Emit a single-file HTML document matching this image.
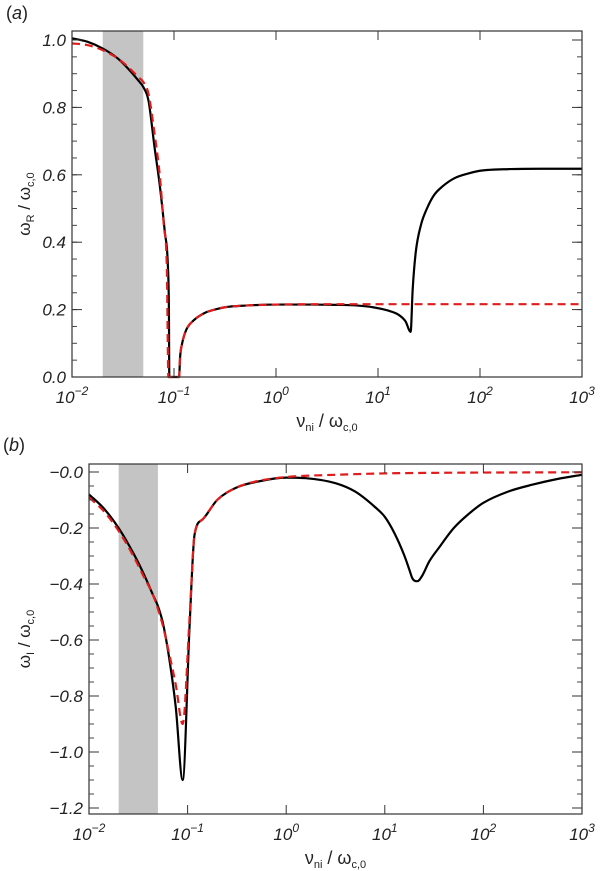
<!DOCTYPE html>
<html><head><meta charset="utf-8"><style>
html,body{margin:0;padding:0;background:#fff}
svg{display:block}
text{font-family:"Liberation Sans",sans-serif;fill:#222}
.tk{font-style:italic;font-size:17px}
</style></head><body>
<svg id="chart" width="600" height="871" viewBox="0 0 600 871">
</svg>
<script>
// ---- data (x given as log10(nu_ni/omega_c0)) ----
const aBlackX=[-2,-1.85,-1.7,-1.55,-1.45,-1.35,-1.3,-1.25,-1.19,-1.14,-1.09,-1.06,-1.05,-1.046,-0.95,-0.94,-0.92,-0.88,-0.8,-0.7,-0.6,-0.5,-0.3,0,0.3,0.6,0.8,0.95,1.1,1.2,1.27,1.32,1.34,1.37,1.42,1.48,1.55,1.63,1.75,1.9,2.0,2.3,2.6,3];
const aBlackY=[1.005,0.995,0.975,0.945,0.915,0.88,0.86,0.82,0.68,0.57,0.43,0.33,0.2,0,0,0.06,0.1,0.14,0.17,0.19,0.2,0.207,0.212,0.215,0.215,0.214,0.212,0.207,0.197,0.185,0.165,0.134,0.26,0.37,0.45,0.5,0.54,0.565,0.59,0.605,0.612,0.617,0.618,0.618];
const aRedX=[-2,-1.85,-1.7,-1.55,-1.45,-1.35,-1.3,-1.25,-1.19,-1.14,-1.1,-1.07,-1.055,-0.95,-0.94,-0.92,-0.88,-0.8,-0.7,-0.6,-0.5,-0.3,0,0.5,1,2,3];
const aRedY=[0.99,0.985,0.97,0.945,0.92,0.89,0.875,0.84,0.72,0.6,0.45,0.32,0,0,0.06,0.1,0.14,0.17,0.19,0.2,0.207,0.212,0.215,0.216,0.216,0.216,0.216];
const bBlackX=[-2,-1.85,-1.7,-1.55,-1.45,-1.35,-1.3,-1.25,-1.18,-1.12,-1.05,-0.98,-0.93,-0.85,-0.7,-0.5,-0.3,0,0.2,0.5,0.7,0.9,1.0,1.1,1.2,1.25,1.28,1.33,1.38,1.45,1.55,1.7,1.85,2.0,2.25,2.5,2.75,3];
const bBlackY=[-0.08,-0.13,-0.2,-0.29,-0.36,-0.44,-0.48,-0.54,-0.68,-0.84,-1.1,-0.55,-0.225,-0.17,-0.1,-0.055,-0.035,-0.02,-0.022,-0.04,-0.07,-0.125,-0.16,-0.22,-0.3,-0.35,-0.38,-0.39,-0.37,-0.32,-0.27,-0.2,-0.15,-0.11,-0.07,-0.045,-0.025,-0.01];
const bRedX=[-2,-1.85,-1.7,-1.55,-1.45,-1.35,-1.3,-1.25,-1.18,-1.12,-1.05,-0.98,-0.93,-0.85,-0.7,-0.5,-0.3,0,0.5,1,1.5,2,3];
const bRedY=[-0.09,-0.14,-0.21,-0.3,-0.37,-0.44,-0.49,-0.55,-0.66,-0.76,-0.9,-0.52,-0.225,-0.17,-0.1,-0.055,-0.033,-0.018,-0.01,-0.005,-0.003,-0.002,-0.001];
const shadeRange=[0.02,0.05];
const xTickExp=[-2,-1,0,1,2,3];
const aYTicks=[0,0.2,0.4,0.6,0.8,1.0];
const bYTicks=[0,-0.2,-0.4,-0.6,-0.8,-1.0,-1.2];

const NS='http://www.w3.org/2000/svg';
const svg=document.getElementById('chart');
function el(tag,attrs,parent){const e=document.createElementNS(NS,tag);for(const k in attrs)e.setAttribute(k,attrs[k]);(parent||svg).appendChild(e);return e;}

// monotone cubic path (Fritsch-Carlson)
function monoPath(P){
  const n=P.length;if(n<2)return '';
  const d=[],m=[];
  for(let i=0;i<n-1;i++){const dx=P[i+1][0]-P[i][0];d.push(dx?(P[i+1][1]-P[i][1])/dx:0);}
  m[0]=d[0];m[n-1]=d[n-2];
  for(let i=1;i<n-1;i++){m[i]=(d[i-1]*d[i]<=0)?0:(d[i-1]+d[i])/2;}
  for(let i=0;i<n-1;i++){
    if(d[i]===0){m[i]=0;m[i+1]=0;continue;}
    const a=m[i]/d[i],b=m[i+1]/d[i],s=a*a+b*b;
    if(s>9){const t=3/Math.sqrt(s);m[i]=t*a*d[i];m[i+1]=t*b*d[i];}
  }
  let s='M'+P[0][0].toFixed(2)+','+P[0][1].toFixed(2);
  for(let i=0;i<n-1;i++){
    const h=(P[i+1][0]-P[i][0])/3;
    s+='C'+(P[i][0]+h).toFixed(2)+','+(P[i][1]+m[i]*h).toFixed(2)+' '+(P[i+1][0]-h).toFixed(2)+','+(P[i+1][1]-m[i+1]*h).toFixed(2)+' '+P[i+1][0].toFixed(2)+','+P[i+1][1].toFixed(2);
  }
  return s;
}

function panel(p){
  const g=el('g',{});
  
  
  const xs=lx=>p.x0+(lx+2)/5*(p.x1-p.x0);
  const ys=v=>p.yZero+(v)*(-p.yUnit);
  const sh=el('rect',{x:xs(Math.log10(shadeRange[0])),y:p.top,width:xs(Math.log10(shadeRange[1]))-xs(Math.log10(shadeRange[0])),height:p.bot-p.top,fill:'#c4c4c4'},g);
  
  
  function line(X,Y,color,dash,name,w){
    const d=monoPath(X.map((x,i)=>[xs(x),ys(Y[i])]));
    const pth=el('path',{d:d,fill:'none',stroke:color,'stroke-width':w,'stroke-dasharray':dash,'stroke-linejoin':'round'},g);
    
    
  }
  line(p.bx,p.by,'#000','none',p.name+'-black-line',2.2);
  line(p.rx,p.ry,'#e01c1c','8,5',p.name+'-red-dashed-line',2.2);
  const fr=el('rect',{x:p.x0,y:p.top,width:p.x1-p.x0,height:p.bot-p.top,fill:'none',stroke:'#333','stroke-width':1.2},g);
  
  
  xTickExp.forEach(e=>{
    const x=xs(e);
    el('line',{x1:x,y1:p.bot,x2:x,y2:p.bot-9,stroke:'#333'},g);
    el('line',{x1:x,y1:p.top,x2:x,y2:p.top+9,stroke:'#333'},g);
    const t=el('text',{x:x,y:p.bot+26,'text-anchor':'middle',class:'tk'},g);
    
    
    t.textContent='10';
    const s=el('tspan',{dy:-8,'font-size':12},t);s.textContent=(e<0?'\u2212':'')+Math.abs(e);
  });
  for(let v=p.ymin;v<=p.ymax+1e-9;v+=0.05){
    const y=ys(v);if(y<p.top-0.5||y>p.bot+0.5)continue;
    el('line',{x1:p.x0,y1:y,x2:p.x0+5,y2:y,stroke:'#444'},g);
    el('line',{x1:p.x1,y1:y,x2:p.x1-5,y2:y,stroke:'#444'},g);
  }
  p.yt.forEach(v=>{
    const y=ys(v);
    el('line',{x1:p.x0,y1:y,x2:p.x0+10,y2:y,stroke:'#333'},g);
    el('line',{x1:p.x1,y1:y,x2:p.x1-10,y2:y,stroke:'#333'},g);
    const t=el('text',{x:p.x0-6,y:y+6,'text-anchor':'end',class:'tk'},g);
    
    
    t.textContent=(p.neg?'\u2212':'')+Math.abs(v).toFixed(1);
  });
  const yt=el('text',{transform:'translate('+p.ytx+','+((p.top+p.bot)/2)+') rotate(-90)','text-anchor':'middle','font-size':17},g);
  
  
  yt.innerHTML='ω<tspan font-size="11" dy="4">'+p.sub+'</tspan><tspan dy="-4"> / ω</tspan><tspan font-size="11" dy="4">c,0</tspan>';
  const xt=el('text',{x:(p.x0+p.x1)/2,y:p.bot+50,'text-anchor':'middle','font-size':18},g);
  
  
  xt.innerHTML='ν<tspan font-size="11" dy="4">ni</tspan><tspan dy="-4"> / ω</tspan><tspan font-size="11" dy="4">c,0</tspan>';
  const lb=el('text',{x:p.lx,y:p.ly,'font-size':18,'font-family':'Liberation Serif, serif'},g);
  
  
  lb.innerHTML='(<tspan font-style="italic">'+p.label+'</tspan>)';
}
panel({name:'panel-a',x0:72,x1:582,top:31,bot:377,yZero:377,yUnit:337,ymin:0,ymax:1.03,yt:aYTicks,neg:false,
  bx:aBlackX,by:aBlackY,rx:aRedX,ry:aRedY,sub:'R',ytx:30,label:'a',lx:6,ly:19});
panel({name:'panel-b',x0:89,x1:582,top:464,bot:814,yZero:472,yUnit:280,ymin:-1.25,ymax:0.03,yt:bYTicks,neg:true,
  bx:bBlackX,by:bBlackY,rx:bRedX,ry:bRedY,sub:'I',ytx:30,label:'b',lx:3,ly:451});
</script>
</body></html>
